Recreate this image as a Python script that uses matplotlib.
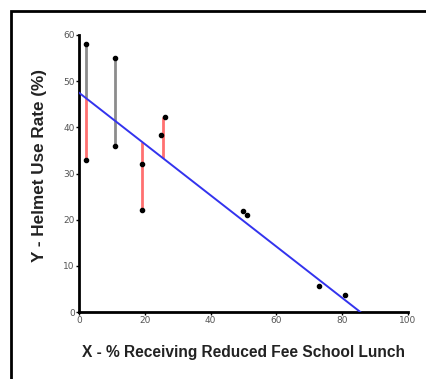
import matplotlib.pyplot as plt
from matplotlib.patches import Rectangle

# school-level observations
school_x = [2, 2, 11, 11, 19, 19, 25, 26, 50, 51, 73, 81]
helmet_y = [58, 33, 55, 36, 32, 22, 38.3, 42.2, 21.9, 21.1, 5.7, 3.6]

# fitted line endpoints
fit_x = [0, 85.5]
fit_y = [47.5, 0]

# vertical connector segments: x, low, high, colour
seg_x = [2, 2, 11, 19, 25.6]
seg_lo = [46.4, 33, 36, 22, 33.3]
seg_hi = [58, 46.4, 55, 36.9, 42.2]
seg_col = ['#8c8c8c', '#ff7070', '#8c8c8c', '#ff7070', '#ff7070']

fig = plt.figure(figsize=(4.27, 3.79), dpi=100)
ax = fig.add_axes([79 / 427, 1 - 312 / 379, 329 / 427, 277 / 379])

ax.vlines(seg_x, seg_lo, seg_hi, colors=seg_col, lw=2, zorder=2)
ax.plot(fit_x, fit_y, color='#3333ee', lw=1.4, zorder=3)
ax.plot(school_x, helmet_y, 'o', color='black', ms=3, zorder=4)

ax.set_xlim(0, 100)
ax.set_ylim(0, 60)
ax.set_xticks([0, 20, 40, 60, 80, 100])
ax.set_yticks([0, 10, 20, 30, 40, 50, 60])
ax.spines['top'].set_visible(False)
ax.spines['right'].set_visible(False)
for s in ['left', 'bottom']:
    ax.spines[s].set_linewidth(2)
ax.tick_params(length=2, width=1, pad=1, labelsize=6.5, labelcolor='#555555')

ax.set_xlabel('X - % Receiving Reduced Fee School Lunch', fontsize=11.2,
              fontweight='bold', family='Liberation Sans', color='#222222', labelpad=14)
ax.set_ylabel('Y - Helmet Use Rate (%)', fontsize=12.3, fontweight='bold',
              family='Liberation Sans', color='#222222')
ax.yaxis.set_label_coords(-0.096, 0.529)

# outer frame, running off the right and bottom edges
fig.add_artist(Rectangle((11.5 / 427, -0.1), 1.1, 1 - 11.5 / 379 + 0.1,
                         transform=fig.transFigure, fill=False, lw=2, ec='black'))

fig.savefig('out.png', dpi=100)
